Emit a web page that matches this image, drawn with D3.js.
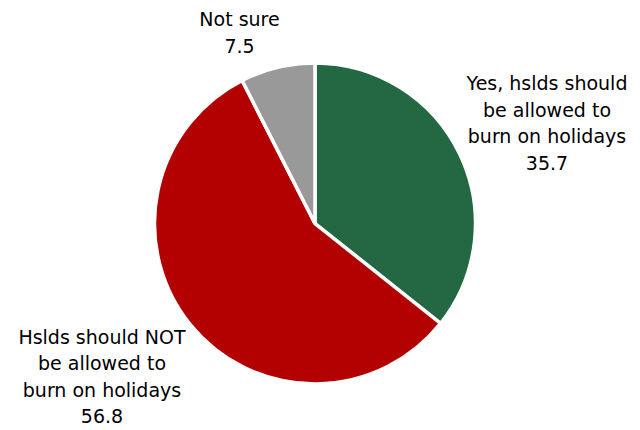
<!DOCTYPE html>
<html>
<head>
<meta charset="utf-8">
<script src="https://cdn.jsdelivr.net/npm/d3@7"></script>
<style>
  html, body { margin: 0; padding: 0; background: #fff; }
  svg { display: block; }
  text { font-family: "DejaVu Sans", Verdana, sans-serif; font-size: 19px; fill: #000; }
</style>
</head>
<body>
<svg id="chart" width="640" height="430"></svg>
<script>
// Data
const categories = [
  ["Yes, hslds should", "be allowed to", "burn on holidays"],
  ["Hslds should NOT", "be allowed to", "burn on holidays"],
  ["Not sure"]
];
const values = [35.7, 56.8, 7.5];
const colors = ["#236843", "#b30000", "#999999"];

// Layout
const W = 640, H = 430;
const cx = 315, cy = 223.5, R = 160.5;
const lineH = 26.5;
// label block centre (x) and first baseline (y), relative to the pie centre
const labelPos = [
  { dx: 232, dy: -133.5 },
  { dx: -213, dy: 120 },
  { dx: -75.5, dy: -197.5 }
];

const svg = d3.select("#chart");
const g = svg.append("g").attr("transform", `translate(${cx},${cy})`);

const pie = d3.pie().sort(null).value(d => d)(values);
const arc = d3.arc().innerRadius(0).outerRadius(R);

g.selectAll("path.slice")
  .data(pie)
  .join("path")
  .attr("class", "slice")
  .attr("d", arc)
  .attr("fill", (d, i) => colors[i])
  .attr("stroke", "#fff")
  .attr("stroke-width", 3.5)
  .attr("stroke-linejoin", "miter");

const labels = g.selectAll("text.lbl")
  .data(pie)
  .join("text")
  .attr("class", "lbl")
  .attr("text-anchor", "middle")
  .attr("transform", (d, i) => `translate(${labelPos[i].dx},${labelPos[i].dy})`);

labels.each(function(d, i) {
  const t = d3.select(this);
  const lines = categories[i].concat([values[i].toFixed(1)]);
  lines.forEach((ln, k) => {
    t.append("tspan").attr("x", 0).attr("y", k * lineH).text(ln);
  });
});
</script>
</body>
</html>
